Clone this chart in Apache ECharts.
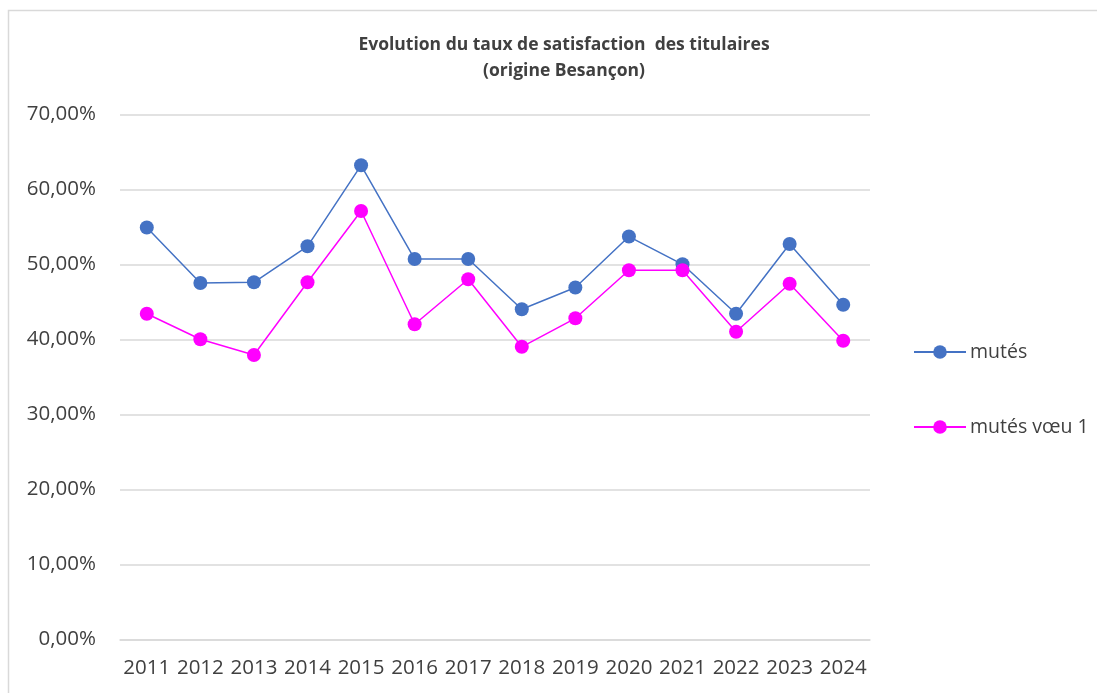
<!DOCTYPE html>
<html>
<head>
<meta charset="utf-8">
<script src="https://cdn.jsdelivr.net/npm/echarts@6/dist/echarts.min.js"></script>
<style>
  html, body { margin: 0; padding: 0; background: #fff; }
  #chart { width: 1097px; height: 693px; }
</style>
</head>
<body>
<div id="chart"></div>
<script>
// années
const years = ['2011', '2012', '2013', '2014', '2015', '2016', '2017', '2018', '2019', '2020', '2021', '2022', '2023', '2024']
// taux mutés (%)
const mutes = [54.9, 47.5, 47.6, 52.4, 63.2, 50.7, 50.7, 44.0, 46.9, 53.7, 50.0, 43.4, 52.7, 44.6]
// taux mutés voeu 1 (%)
const mutesVoeu1 = [43.4, 40.0, 37.9, 47.6, 57.1, 42.0, 48.0, 39.0, 42.8, 49.2, 49.2, 41.0, 47.4, 39.8]

const font = '"Open Sans", "Liberation Sans", sans-serif'
const chart = echarts.init(document.getElementById('chart'))

const lineSerie = (name, data, color) => ({
    name: name,
    type: 'line',
    data: data,
    symbol: 'circle',
    symbolSize: 14,
    lineStyle: { color: color, width: 1.5 },
    itemStyle: { color: color },
    emphasis: { disabled: true },
    animation: false,
})

chart.setOption({
    animation: false,
    title: {
        text: 'Evolution du taux de satisfaction  des titulaires\n(origine Besançon)',
        left: 559,
        top: 27,
        textAlign: 'center',
        textStyle: {
            fontFamily: font,
            fontSize: 17.5,
            fontWeight: 'bold',
            color: '#404040',
            lineHeight: 26,
        },
    },
    graphic: [{
        type: 'rect',
        shape: { x: 8.5, y: 10.5, width: 1100, height: 700 },
        style: { fill: 'none', stroke: '#D9D9D9', lineWidth: 1.5 },
        silent: true,
    }],
    legend: {
        orient: 'vertical',
        left: 908,
        top: 337,
        itemGap: 55,
        itemWidth: 52,
        itemHeight: 17,
        textStyle: { fontFamily: font, fontSize: 19.5, color: '#404040', padding: [0, 0, 0, -1] },
        data: ['mutés', 'mutés vœu 1'],
    },
    grid: { left: 120, right: 227, top: 114.3, bottom: 53.7 },
    xAxis: {
        type: 'category',
        data: years,
        boundaryGap: true,
        axisLine: { lineStyle: { color: '#D9D9D9', width: 1.5 } },
        axisTick: { show: false },
        axisLabel: { fontFamily: font, fontSize: 20.5, color: '#404040', margin: 18, interval: 0 },
    },
    yAxis: {
        type: 'value',
        min: 0,
        max: 70,
        interval: 10,
        axisLine: { show: false },
        axisTick: { show: false },
        splitLine: { lineStyle: { color: '#D9D9D9', width: 1.5 } },
        axisLabel: {
            fontFamily: font, fontSize: 20.5, color: '#404040', margin: 24,
            formatter: v => v.toFixed(2).replace('.', ',') + '%',
        },
    },
    series: [
        lineSerie('mutés', mutes, '#4472C4'),
        lineSerie('mutés vœu 1', mutesVoeu1, '#FF00FF'),
    ],
})
</script>
</body>
</html>
